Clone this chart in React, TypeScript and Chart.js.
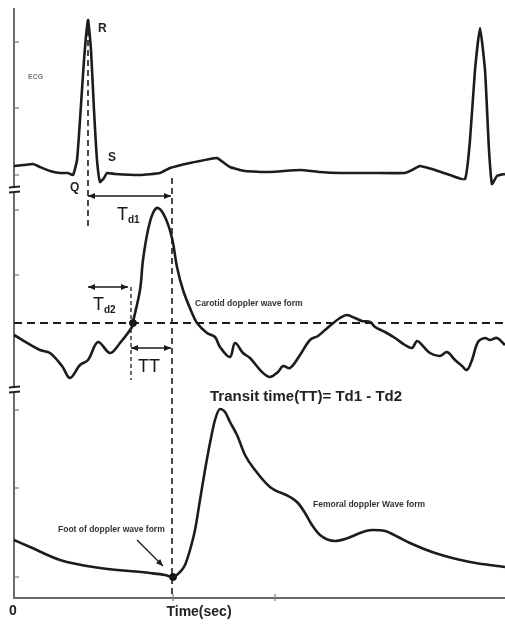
import React, { useEffect, useRef } from "react";
import { Chart, registerables } from "chart.js";

Chart.register(...registerables);

// ---- Data (time index along x, amplitude along y; arbitrary units) ----
const ecgT = [0, 10, 19, 26, 36, 46, 54, 59, 63, 66, 70, 74, 77, 80, 83, 86, 90, 93, 101, 126, 146, 156, 176, 196, 203, 216, 231, 256, 286, 306, 326, 356, 391, 398, 406, 414, 421, 436, 451, 456, 461, 466, 471, 475, 478, 483, 491];
const ecgV = [432, 433, 434, 431, 427, 425, 425, 423, 438, 478, 538, 578, 548, 488, 438, 416, 420, 425, 424, 423, 425, 430, 435, 439, 440, 431, 427, 426, 428, 426, 425, 425, 425, 428, 432, 430, 428, 423, 419, 458, 528, 570, 528, 448, 414, 422, 424];

const carotidT = [0, 26, 36, 48, 56, 66, 74, 84, 96, 106, 118, 119, 126, 129, 134, 139, 144, 151, 158, 163, 169, 178, 183, 193, 201, 206, 216, 221, 229, 236, 248, 256, 264, 269, 276, 286, 296, 304, 311, 318, 326, 333, 341, 348, 356, 361, 371, 381, 391, 398, 403, 408, 416, 426, 433, 441, 448, 453, 458, 464, 471, 476, 483, 491];
const carotidV = [263, 248, 245, 232, 220, 233, 238, 256, 245, 255, 271, 276, 308, 338, 368, 385, 390, 381, 360, 331, 308, 285, 275, 265, 261, 251, 241, 255, 245, 240, 226, 221, 226, 232, 230, 243, 258, 262, 268, 274, 280, 283, 280, 277, 276, 271, 266, 260, 253, 250, 257, 253, 245, 242, 246, 238, 232, 228, 238, 256, 260, 258, 260, 253];

const femoralT = [0, 16, 46, 86, 136, 151, 159, 166, 171, 176, 181, 186, 191, 196, 201, 206, 211, 216, 223, 231, 241, 256, 276, 284, 291, 298, 306, 321, 334, 346, 358, 371, 384, 396, 421, 456, 491];
const femoralV = [58, 51, 38, 30, 25, 23, 21, 26, 33, 48, 68, 98, 128, 155, 178, 189, 186, 176, 163, 143, 128, 111, 101, 95, 85, 73, 63, 57, 60, 65, 68, 67, 61, 55, 45, 36, 31];

// guide lines (time, amplitude)
const rLineT = [74, 74];
const rLineV = [578, 370];
const footLineT = [158, 158];
const footLineV = [420, 0];
const baselineT = [0, 491];
const baselineV = [275, 275];
const td2LineT = [117, 117];
const td2LineV = [311, 218];

// marker dots
const markerT = [119, 159];
const markerV = [275, 21];

// interval arrows: [startT, endT, level]
const td1Arrow = [74, 157, 402];
const td2Arrow = [74, 114, 311];
const ttArrow = [117, 157, 250];
const footArrow = [123, 58, 149, 32];

// axis ticks
const yTicks = [556, 490, 423, 388, 323, 188, 110, 21];
const yBreaks = [408, 208];
const xTicks = [159, 261];
const xMax = 491;
const yMax = 590;

// text labels
const waveLabels = ["R", "S", "Q"];
const waveLabelT = [84, 94, 56];
const waveLabelV = [569, 440, 410];
const noteLabels = ["Carotid doppler wave form", "Femoral doppler Wave form", "Foot of doppler wave form"];
const noteLabelT = [181, 299, 44];
const noteLabelV = [294, 93, 68];
const formulaText = "Transit time(TT)= Td1 - Td2";
const formulaPos = [196, 201];
const ecgText = "ECG";
const ecgPos = [14, 521];
const xLabel = "Time(sec)";
const xZero = "0";

const FONT = "'Liberation Sans', Arial, sans-serif";

function pts(t: number[], v: number[]) {
  return t.map((tt, i) => ({ x: tt, y: v[i] }));
}

const overlay = {
  id: "overlay",
  beforeDatasetsDraw(chart: any) {
    const { ctx, scales } = chart;
    const X = (v: number) => scales.x.getPixelForValue(v);
    const Y = (v: number) => scales.y.getPixelForValue(v);
    ctx.save();
    ctx.strokeStyle = "#6a6a6a";
    ctx.lineWidth = 2;
    ctx.beginPath();
    ctx.moveTo(X(0), Y(yMax));
    ctx.lineTo(X(0), Y(0));
    ctx.lineTo(X(xMax), Y(0));
    ctx.stroke();
    ctx.lineWidth = 1.2;
    ctx.strokeStyle = "#777";
    yTicks.forEach((t) => {
      ctx.beginPath();
      ctx.moveTo(X(0), Y(t));
      ctx.lineTo(X(0) + 5, Y(t));
      ctx.stroke();
    });
    xTicks.forEach((t) => {
      ctx.beginPath();
      ctx.moveTo(X(t), Y(0) - 4);
      ctx.lineTo(X(t), Y(0) + 3);
      ctx.stroke();
    });
    // axis breaks
    ctx.strokeStyle = "#222";
    ctx.lineWidth = 2;
    yBreaks.forEach((b) => {
      const cx = X(0);
      const cy = Y(b);
      ctx.fillStyle = "#fff";
      ctx.fillRect(cx - 6, cy - 3, 12, 6);
      ctx.beginPath();
      ctx.moveTo(cx - 5, cy - 2.5);
      ctx.lineTo(cx + 6, cy - 3.5);
      ctx.moveTo(cx - 5, cy + 2.5);
      ctx.lineTo(cx + 6, cy + 1.5);
      ctx.stroke();
    });
    ctx.restore();
  },
  afterDatasetsDraw(chart: any) {
    const { ctx, scales } = chart;
    const X = (v: number) => scales.x.getPixelForValue(v);
    const Y = (v: number) => scales.y.getPixelForValue(v);
    ctx.save();
    const head = (x0: number, y0: number, x1: number, y1: number) => {
      const a = Math.atan2(y1 - y0, x1 - x0);
      const L = 7, W = 3;
      ctx.beginPath();
      ctx.moveTo(x1, y1);
      ctx.lineTo(x1 - L * Math.cos(a) + W * Math.sin(a), y1 - L * Math.sin(a) - W * Math.cos(a));
      ctx.lineTo(x1 - L * Math.cos(a) - W * Math.sin(a), y1 - L * Math.sin(a) + W * Math.cos(a));
      ctx.closePath();
      ctx.fill();
    };
    const dbl = (arr: number[]) => {
      const x0 = X(arr[0]), x1 = X(arr[1]), yy = Y(arr[2]);
      ctx.beginPath();
      ctx.moveTo(x0, yy);
      ctx.lineTo(x1, yy);
      ctx.stroke();
      head(x1, yy, x0, yy);
      head(x0, yy, x1, yy);
    };
    ctx.strokeStyle = "#1a1a1a";
    ctx.fillStyle = "#1a1a1a";
    ctx.lineWidth = 1.6;
    dbl(td1Arrow);
    dbl(td2Arrow);
    dbl(ttArrow);
    // foot arrow
    {
      const x0 = X(footArrow[0]), y0 = Y(footArrow[1]), x1 = X(footArrow[2]), y1 = Y(footArrow[3]);
      ctx.lineWidth = 1.3;
      ctx.beginPath();
      ctx.moveTo(x0, y0);
      ctx.lineTo(x1, y1);
      ctx.stroke();
      head(x0, y0, x1, y1);
    }
    // text
    ctx.textBaseline = "middle";
    ctx.fillStyle = "#222";
    ctx.textAlign = "left";
    ctx.font = `bold 12px ${FONT}`;
    waveLabels.forEach((s, i) => {
      ctx.fillText(s, X(waveLabelT[i]), Y(waveLabelV[i]));
    });
    ctx.font = `bold 8.5px ${FONT}`;
    ctx.fillStyle = "#333";
    noteLabels.forEach((s, i) => {
      ctx.fillText(s, X(noteLabelT[i]), Y(noteLabelV[i]));
    });
    ctx.font = `bold 7px ${FONT}`;
    ctx.fillStyle = "#777";
    ctx.fillText(ecgText, X(ecgPos[0]), Y(ecgPos[1]));
    ctx.fillStyle = "#222";
    ctx.font = `bold 15px ${FONT}`;
    ctx.fillText(formulaText, X(formulaPos[0]), Y(formulaPos[1]));
    // interval labels with subscripts
    const sub = (main: string, s: string, t: number, v: number) => {
      ctx.font = `18px ${FONT}`;
      const w = ctx.measureText(main).width;
      ctx.fillText(main, X(t), Y(v));
      ctx.font = `bold 10px ${FONT}`;
      ctx.fillText(s, X(t) + w, Y(v) + 5);
    };
    ctx.fillStyle = "#1a1a1a";
    sub("T", "d1", 103, 383);
    sub("T", "d2", 79, 293);
    ctx.font = `18px ${FONT}`;
    ctx.textAlign = "center";
    ctx.fillText("TT", X(135), Y(231));
    // x-axis labels
    ctx.font = `bold 14px ${FONT}`;
    ctx.fillStyle = "#222";
    ctx.textBaseline = "top";
    ctx.fillText(xZero, X(0) - 1, Y(0) + 6);
    ctx.fillText(xLabel, X(185), Y(0) + 7);
    ctx.restore();
  },
};

export default function App() {
  const ref = useRef<HTMLCanvasElement | null>(null);
  useEffect(() => {
    if (!ref.current) return;
    const trace = { borderColor: "#1c1c1c", borderWidth: 2.6, pointRadius: 0, fill: false };
    const dashed = { borderColor: "#1c1c1c", borderWidth: 1.6, pointRadius: 0, borderDash: [6, 4], tension: 0 };
    const chart = new Chart(ref.current, {
      type: "line",
      data: {
        datasets: [
          { label: "ECG", data: pts(ecgT, ecgV), ...trace, tension: 0.15 },
          { label: "Carotid", data: pts(carotidT, carotidV), ...trace, tension: 0.35 },
          { label: "Femoral", data: pts(femoralT, femoralV), ...trace, cubicInterpolationMode: "monotone" },
          { label: "R line", data: pts(rLineT, rLineV), ...dashed },
          { label: "Foot line", data: pts(footLineT, footLineV), ...dashed },
          { label: "Baseline", data: pts(baselineT, baselineV), ...dashed, borderWidth: 2, borderDash: [8, 5] },
          { label: "Td2 line", data: pts(td2LineT, td2LineV), ...dashed, borderWidth: 1.3, borderDash: [4, 3] },
          { label: "Markers", data: pts(markerT, markerV), showLine: false, pointRadius: 3.5, pointBackgroundColor: "#111", pointBorderColor: "#111" },
        ] as any,
      },
      options: {
        responsive: false,
        animation: false,
        devicePixelRatio: 1,
        layout: { padding: { left: 14, right: 0, top: 8, bottom: 26 } },
        plugins: { legend: { display: false }, tooltip: { enabled: false } },
        elements: { line: { capBezierPoints: true } },
        datasets: { line: { clip: false } as any },
        scales: {
          x: { type: "linear", min: 0, max: xMax, display: false },
          y: { type: "linear", min: 0, max: yMax, display: false },
        },
      },
      plugins: [overlay],
    });
    return () => chart.destroy();
  }, []);
  return (
    <div style={{ position: "fixed", left: 0, top: 0, width: 505, height: 624, overflow: "hidden", background: "#fff" }}>
      <canvas ref={ref} width={510} height={624} style={{ display: "block" }} />
    </div>
  );
}
